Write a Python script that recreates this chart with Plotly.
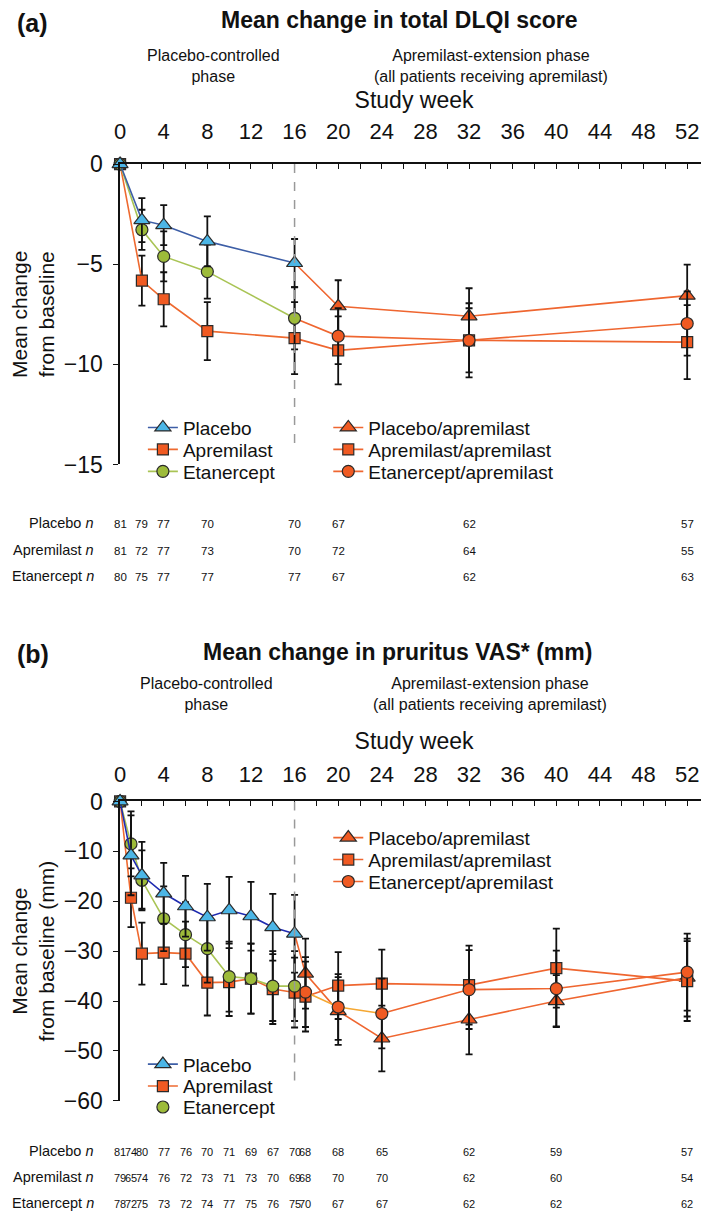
import plotly.graph_objects as go

# Figure size; the page places the figure a little below/right of its top-left corner,
# so reference pixel positions are converted to figure positions by px_x / px_y below.
W, H = 700, 1213
LEFT_OFF, TOP_OFF, V_SCALE = 9, 20, 0.9806

# ---------------- Panel (a): Mean change in total DLQI score ----------------
weeks_a = [0, 2, 4, 8, 16]
placebo_a = [0, -2.8, -3.05, -3.86, -4.94]
placebo_a_err = [0, 1.1, 1.0, 1.25, 1.2]
apremilast_a = [0, -5.82, -6.75, -8.34, -8.69]
apremilast_a_err = [0, 1.25, 1.35, 1.45, 1.8]
etanercept_a = [0, -3.28, -4.61, -5.37, -7.7]
etanercept_a_err = [0, 1.0, 1.25, 1.35, 1.55]

weeks_a_ext = [16, 20, 32, 52]
placebo_apr_a = [-4.94, -7.1, -7.6, -6.57]
placebo_apr_a_err = [0, 1.3, 1.4, 1.55]
apremilast_apr_a = [-8.69, -9.3, -8.8, -8.89]
apremilast_apr_a_err = [0, 1.7, 1.85, 1.85]
etanercept_apr_a = [-7.7, -8.59, -8.8, -7.96]
etanercept_apr_a_err = [0, 1.4, 1.6, 1.6]

n_weeks_a = [0, 2, 4, 8, 16, 20, 32, 52]
n_placebo_a = [81, 79, 77, 70, 70, 67, 62, 57]
n_apremilast_a = [81, 72, 77, 73, 70, 72, 64, 55]
n_etanercept_a = [80, 75, 77, 77, 77, 67, 62, 63]

# ---------------- Panel (b): Mean change in pruritus VAS (mm) ----------------
weeks_b = [0, 1, 2, 4, 6, 8, 10, 12, 14, 16]
placebo_b = [0, -10.8, -14.8, -18.4, -21.0, -23.2, -21.8, -23.0, -25.2, -26.5]
placebo_b_err = [0, 8.0, 6.7, 6.1, 6.1, 6.7, 6.7, 6.9, 6.7, 7.8]
apremilast_b = [0, -19.3, -30.5, -30.3, -30.5, -36.3, -36.2, -35.5, -37.6, -38.3]
apremilast_b_err = [0, 5.9, 6.2, 6.3, 6.4, 6.6, 6.8, 7.0, 7.0, 7.0]
etanercept_b = [0, -8.5, -15.8, -23.5, -26.7, -29.5, -35.1, -35.5, -37.0, -37.0]
etanercept_b_err = [0, 6.5, 6.0, 6.5, 6.5, 6.8, 7.0, 7.0, 7.0, 7.0]

weeks_b_ext = [16, 17, 20, 24, 32, 40, 52]
placebo_apr_b = [-26.5, -34.5, -42.0, -47.5, -43.7, -40.0, -35.3]
placebo_apr_b_err = [0, 7.0, 6.8, 6.6, 7.0, 5.2, 7.8]
apremilast_apr_b = [-38.3, -39.1, -36.9, -36.5, -36.8, -33.4, -36.0]
apremilast_apr_b_err = [0, 7.0, 6.7, 6.8, 7.9, 7.9, 8.0]
etanercept_apr_b = [-37.0, -38.2, -41.2, -42.5, -37.7, -37.5, -34.2]
etanercept_apr_b_err = [0, 7.0, 6.6, 7.0, 7.9, 7.6, 7.7]

n_weeks_b = [0, 1, 2, 4, 6, 8, 10, 12, 14, 16, 17, 20, 24, 32, 40, 52]
n_placebo_b = [81, 74, 80, 77, 76, 70, 71, 69, 67, 70, 68, 68, 65, 62, 59, 57]
n_apremilast_b = [79, 65, 74, 76, 72, 73, 71, 73, 70, 69, 68, 70, 70, 62, 60, 54]
n_etanercept_b = [78, 72, 75, 73, 72, 74, 77, 75, 76, 75, 70, 67, 67, 62, 62, 62]

week_ticks = [0, 4, 8, 12, 16, 20, 24, 28, 32, 36, 40, 44, 48, 52]
yticks_a = [0, -5, -10, -15]
yticks_b = [0, -10, -20, -30, -40, -50, -60]
phase_boundary_week = 16

# ---------------- styling ----------------
FONT = "Arial, Liberation Sans, Helvetica, sans-serif"
NARROW = "Liberation Sans Narrow, Arial Narrow, Arial, Liberation Sans, sans-serif"
PLA_FILL = "#4cb6e6"
PLA_LINE_A = "#3d5ea6"
PLA_LINE_B = "#1f2bb0"
APR_FILL = "#f05a22"
APR_LINE = "#ee6a30"
ETA_FILL = "#9dbb3a"
ETA_LINE = "#a9c455"
EXT_LINE = "#ef6630"
ETA_EXT_LINE_B = "#f5a833"
EDGE = "#2a2a2a"

SYM = {"tri": ("triangle-up", 14), "sq": ("square", 11), "circ": ("circle", 12)}


def px_x(v):
    return (v - LEFT_OFF) / W


def px_y(v):
    return 1 - (v / V_SCALE - TOP_OFF) / H


fig = go.Figure()


def err(arr):
    return dict(type="data", array=arr, color="#111111", thickness=1.8, width=3.5)


def series(x, y, e, fill, lcolor, shape, xa, ya):
    sym, size = SYM[shape]
    fig.add_trace(go.Scatter(
        x=x, y=y, mode="lines+markers", xaxis=xa, yaxis=ya, showlegend=False,
        cliponaxis=False, line=dict(color=lcolor, width=1.6),
        marker=dict(symbol=sym, size=size, color=fill, line=dict(color=EDGE, width=1.2)),
        error_y=err(e)))


def ext_series(x, y, e, lcolor, shape, xa, ya, split=None, lcolor2=None):
    sym, size = SYM[shape]
    if split is None:
        fig.add_trace(go.Scatter(x=x, y=y, mode="lines", xaxis=xa, yaxis=ya,
                                 showlegend=False, cliponaxis=False,
                                 line=dict(color=lcolor, width=1.6)))
    else:
        fig.add_trace(go.Scatter(x=x[:split + 1], y=y[:split + 1], mode="lines", xaxis=xa,
                                 yaxis=ya, showlegend=False, cliponaxis=False,
                                 line=dict(color=lcolor2, width=1.6)))
        fig.add_trace(go.Scatter(x=x[split:], y=y[split:], mode="lines", xaxis=xa,
                                 yaxis=ya, showlegend=False, cliponaxis=False,
                                 line=dict(color=lcolor, width=1.6)))
    fig.add_trace(go.Scatter(
        x=x[1:], y=y[1:], mode="markers", xaxis=xa, yaxis=ya, showlegend=False,
        cliponaxis=False,
        marker=dict(symbol=sym, size=size, color=APR_FILL, line=dict(color=EDGE, width=1.2)),
        error_y=err(e[1:])))


# Panel (a)
ext_series(weeks_a_ext, placebo_apr_a, placebo_apr_a_err, EXT_LINE, "tri", "x", "y")
ext_series(weeks_a_ext, apremilast_apr_a, apremilast_apr_a_err, EXT_LINE, "sq", "x", "y")
ext_series(weeks_a_ext, etanercept_apr_a, etanercept_apr_a_err, EXT_LINE, "circ", "x", "y")
series(weeks_a, apremilast_a, apremilast_a_err, APR_FILL, APR_LINE, "sq", "x", "y")
series(weeks_a, etanercept_a, etanercept_a_err, ETA_FILL, ETA_LINE, "circ", "x", "y")
series(weeks_a, placebo_a, placebo_a_err, PLA_FILL, PLA_LINE_A, "tri", "x", "y")

# Panel (b)
ext_series(weeks_b_ext, placebo_apr_b, placebo_apr_b_err, EXT_LINE, "tri", "x2", "y2")
ext_series(weeks_b_ext, apremilast_apr_b, apremilast_apr_b_err, EXT_LINE, "sq", "x2", "y2")
ext_series(weeks_b_ext, etanercept_apr_b, etanercept_apr_b_err, EXT_LINE, "circ", "x2", "y2",
           split=3, lcolor2=ETA_EXT_LINE_B)
series(weeks_b, apremilast_b, apremilast_b_err, APR_FILL, APR_LINE, "sq", "x2", "y2")
series(weeks_b, etanercept_b, etanercept_b_err, ETA_FILL, ETA_LINE, "circ", "x2", "y2")
series(weeks_b, placebo_b, placebo_b_err, PLA_FILL, PLA_LINE_B, "tri", "x2", "y2")

# Legends: one single-entry legend per row so the row spacing matches the figure
LEG_FONT = dict(family=FONT, size=19, color="#111")
legend_rows = [
    # name, fill, line colour, shape, mode, left x (px), row centre y (px)
    ("Placebo", PLA_FILL, PLA_LINE_A, "tri", "lines+markers", 139, 427),
    ("Apremilast", APR_FILL, APR_LINE, "sq", "lines+markers", 139, 449),
    ("Etanercept", ETA_FILL, ETA_LINE, "circ", "lines+markers", 139, 471),
    ("Placebo/apremilast", APR_FILL, EXT_LINE, "tri", "lines+markers", 326, 427),
    ("Apremilast/apremilast", APR_FILL, EXT_LINE, "sq", "lines+markers", 326, 449),
    ("Etanercept/apremilast", APR_FILL, EXT_LINE, "circ", "lines+markers", 326, 471),
    ("Placebo", PLA_FILL, PLA_LINE_A, "tri", "lines+markers", 139, 1065),
    ("Apremilast", APR_FILL, APR_LINE, "sq", "lines+markers", 139, 1087),
    ("Etanercept", ETA_FILL, ETA_LINE, "circ", "markers", 139, 1108),
    ("Placebo/apremilast", APR_FILL, EXT_LINE, "tri", "lines+markers", 326, 838),
    ("Apremilast/apremilast", APR_FILL, EXT_LINE, "sq", "lines+markers", 326, 860),
    ("Etanercept/apremilast", APR_FILL, EXT_LINE, "circ", "lines+markers", 326, 882),
]
legend_layout = {}
for i, (name, fill, lcolor, shape, mode, lx, ly) in enumerate(legend_rows):
    key = "legend" if i == 0 else f"legend{i + 1}"
    sym, size = SYM[shape]
    fig.add_trace(go.Scatter(
        x=[None], y=[None], name=name, legend=key, mode=mode,
        line=dict(color=lcolor, width=1.6),
        marker=dict(symbol=sym, size=size, color=fill, line=dict(color=EDGE, width=1.2))))
    legend_layout[key] = dict(x=px_x(lx), y=px_y(ly - 19), xanchor="left", yanchor="top",
                              xref="paper", yref="paper", bgcolor="rgba(0,0,0,0)",
                              font=LEG_FONT, itemwidth=30, borderwidth=0)

# Axes
x_end = (709 - 116) / 11.0  # axis reaches the right edge of the page
x_common = dict(range=[0, x_end], side="top", tickmode="array", tickvals=week_ticks,
                ticks="inside", ticklen=5, tickwidth=1.4, tickcolor="#111",
                showline=True, linecolor="#111", linewidth=1.5, showgrid=False,
                zeroline=False, tickfont=dict(family=FONT, size=22, color="#111"),
                minor=dict(dtick=2, ticks="inside", ticklen=5, tickwidth=1.4,
                           tickcolor="#111", showgrid=False),
                domain=[px_x(116), 1.0], fixedrange=True)
y_common = dict(ticks="outside", ticklen=5, tickwidth=1.4, tickcolor="#111",
                showline=True, linecolor="#111", linewidth=1.5, showgrid=False,
                zeroline=False, tickfont=dict(family=FONT, size=23, color="#111"),
                tickmode="array", fixedrange=True, ticklabelstandoff=6)

fig.update_layout(
    width=W, height=H, margin=dict(l=0, r=0, t=0, b=0),
    paper_bgcolor="white", plot_bgcolor="white",
    font=dict(family=FONT, color="#111"),
    xaxis=dict(**x_common, anchor="y", ticklabelstandoff=15,
               title=dict(text="Study week", font=dict(family=FONT, size=23), standoff=3)),
    xaxis2=dict(**x_common, anchor="y2", ticklabelstandoff=9,
                title=dict(text="Study week", font=dict(family=FONT, size=23), standoff=6)),
    yaxis=dict(**y_common, range=[-15, 0], tickvals=yticks_a, anchor="x",
               domain=[px_y(464), px_y(163)],
               title=dict(text="Mean change<br>from baseline", font=dict(family=FONT, size=21),
                          standoff=10)),
    yaxis2=dict(**y_common, range=[-60, 0], tickvals=yticks_b, anchor="x2",
                domain=[px_y(1101.7), px_y(801.7)],
                title=dict(text="Mean change<br>from baseline (mm)",
                           font=dict(family=FONT, size=21), standoff=6)),
    showlegend=True,
    **legend_layout,
)

# Phase boundary dashed lines
fig.add_shape(type="line", xref="x", yref="y", x0=phase_boundary_week, x1=phase_boundary_week,
              y0=0, y1=-14.2, line=dict(color="#999", width=1.5, dash="dash"))
fig.add_shape(type="line", xref="x2", yref="y2", x0=phase_boundary_week, x1=phase_boundary_week,
              y0=0, y1=-56, line=dict(color="#999", width=1.5, dash="dash"))

ann = []


def text(x, y, s, size, bold=False, xanchor="center", family=FONT, xref="paper"):
    ann.append(dict(x=x if xref != "paper" else px_x(x), y=px_y(y), xref=xref, yref="paper",
                    text=f"<b>{s}</b>" if bold else s, showarrow=False,
                    xanchor=xanchor, yanchor="middle",
                    font=dict(family=family, size=size, color="#111")))


# Titles
text(10, 22, "(a)", 25, bold=True, xanchor="left")
text(398, 19, "Mean change in total DLQI score", 23, bold=True)
text(210, 65, "Placebo-controlled<br>phase", 16)
text(490, 65, "Apremilast-extension phase<br>(all patients receiving apremilast)", 16)
text(10, 654, "(b)", 25, bold=True, xanchor="left")
text(396, 652, "Mean change in pruritus VAS* (mm)", 23, bold=True)
text(203, 694, "Placebo-controlled<br>phase", 16)
text(489, 694, "Apremilast-extension phase<br>(all patients receiving apremilast)", 16)

# n tables
rows_a = [("Placebo", n_placebo_a, 523), ("Apremilast", n_apremilast_a, 550),
          ("Etanercept", n_etanercept_a, 576)]
rows_b = [("Placebo", n_placebo_b, 1152), ("Apremilast", n_apremilast_b, 1178),
          ("Etanercept", n_etanercept_b, 1204)]
for name, vals, yy in rows_a:
    text(92, yy, f"{name} <i>n</i>", 14.5, xanchor="right")
    for w, v in zip(n_weeks_a, vals):
        text(w, yy + 1, str(v), 11.5, family=NARROW, xref="x")
for name, vals, yy in rows_b:
    text(92, yy, f"{name} <i>n</i>", 14.5, xanchor="right")
    for w, v in zip(n_weeks_b, vals):
        text(w, yy + 1, str(v), 11, family=NARROW, xref="x2")

fig.update_layout(annotations=ann)
fig.write_html("out.html")
